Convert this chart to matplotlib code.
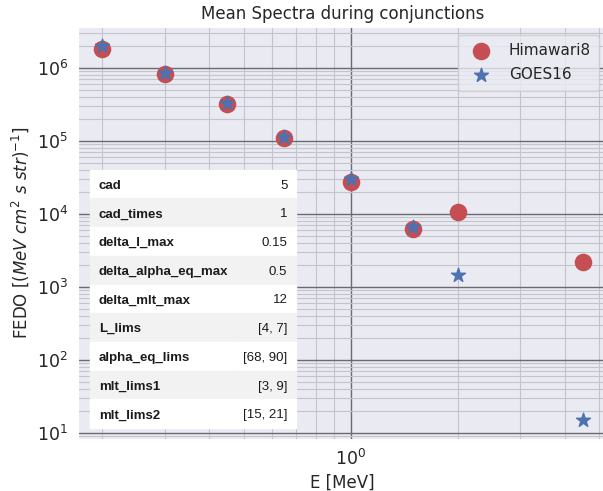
import matplotlib
matplotlib.use('Agg')
import numpy as np
import matplotlib.pyplot as plt
import seaborn as sns

# --- Data ---
energies = [0.2, 0.3, 0.45, 0.65, 1.0, 1.5, 2.0, 4.5]
himawari_fedo = [1.82e6, 8.3e5, 3.18e5, 1.09e5, 2.76e4, 6.15e3, 1.05e4, 2.17e3]
goes_fedo = [2.02e6, 8.6e5, 3.34e5, 1.14e5, 3.0e4, 6.7e3, 1.47e3, 14.9]

param_names = ['cad', 'cad_times', 'delta_l_max', 'delta_alpha_eq_max',
               'delta_mlt_max', 'L_lims', 'alpha_eq_lims', 'mlt_lims1', 'mlt_lims2']
param_values = ['5', '1', '0.15', '0.5', '12', '[4, 7]', '[68, 90]', '[3, 9]', '[15, 21]']
# --- End Data ---

sns.set_style('darkgrid')
plt.rcParams['font.family'] = ['DejaVu Sans']

fig = plt.figure(figsize=(6.03, 4.91), dpi=100)
# axes runs a bit past the right edge, like the cropped original
ax = fig.add_axes([78 / 603, 52.2 / 491, 529 / 603, 411.8 / 491])

ax.scatter(energies, himawari_fedo, s=135, marker='o', color='#C44E52',
           label='Himawari8', zorder=3)
ax.scatter(energies, goes_fedo, s=110, marker='*', color='#4C72B0',
           label='GOES16', zorder=4)

ax.set_xscale('log')
ax.set_yscale('log')

ax.grid(True, which='major', color='#6a6a70', linewidth=1.0)
ax.grid(True, which='minor', color='#c4c4cc', linewidth=0.8)
ax.set_axisbelow(True)

ax.set_title('Mean Spectra during conjunctions', fontsize=12, color='#262626')
ax.set_xlabel('E [MeV]', fontsize=12, color='#262626')
ax.set_ylabel(r'FEDO [$(MeV\ cm^2\ s\ str)^{-1}$]', fontsize=12, color='#262626')
ax.tick_params(axis='both', which='major', labelsize=12.5, colors='#262626')

ax.legend(loc='upper right', fontsize=11, borderpad=0.55, labelspacing=0.6)

# parameter table in the lower left
cell_text = [[n, v] for n, v in zip(param_names, param_values)]
tbl = ax.table(cellText=cell_text, colWidths=[0.7, 0.3],
               bbox=[0.0227, 0.0258, 0.3894, 0.6275], zorder=5)
tbl.auto_set_font_size(False)
for (r, c), cell in tbl.get_celld().items():
    bg = 'white' if r % 2 == 0 else '#f2f2f2'
    cell.set_facecolor(bg)
    cell.set_edgecolor(bg)
    txt = cell.get_text()
    txt.set_fontfamily('Liberation Sans')
    txt.set_fontsize(9.5)
    txt.set_color('#1a1a1a')
    txt.set_verticalalignment('center_baseline')
    if c == 0:
        cell._loc = 'left'
        cell.PAD = 0.06
        txt.set_horizontalalignment('left')
        txt.set_fontweight('bold')
    else:
        cell._loc = 'right'
        cell.PAD = 0.14
        txt.set_horizontalalignment('right')

fig.savefig('out.png', dpi=100)
